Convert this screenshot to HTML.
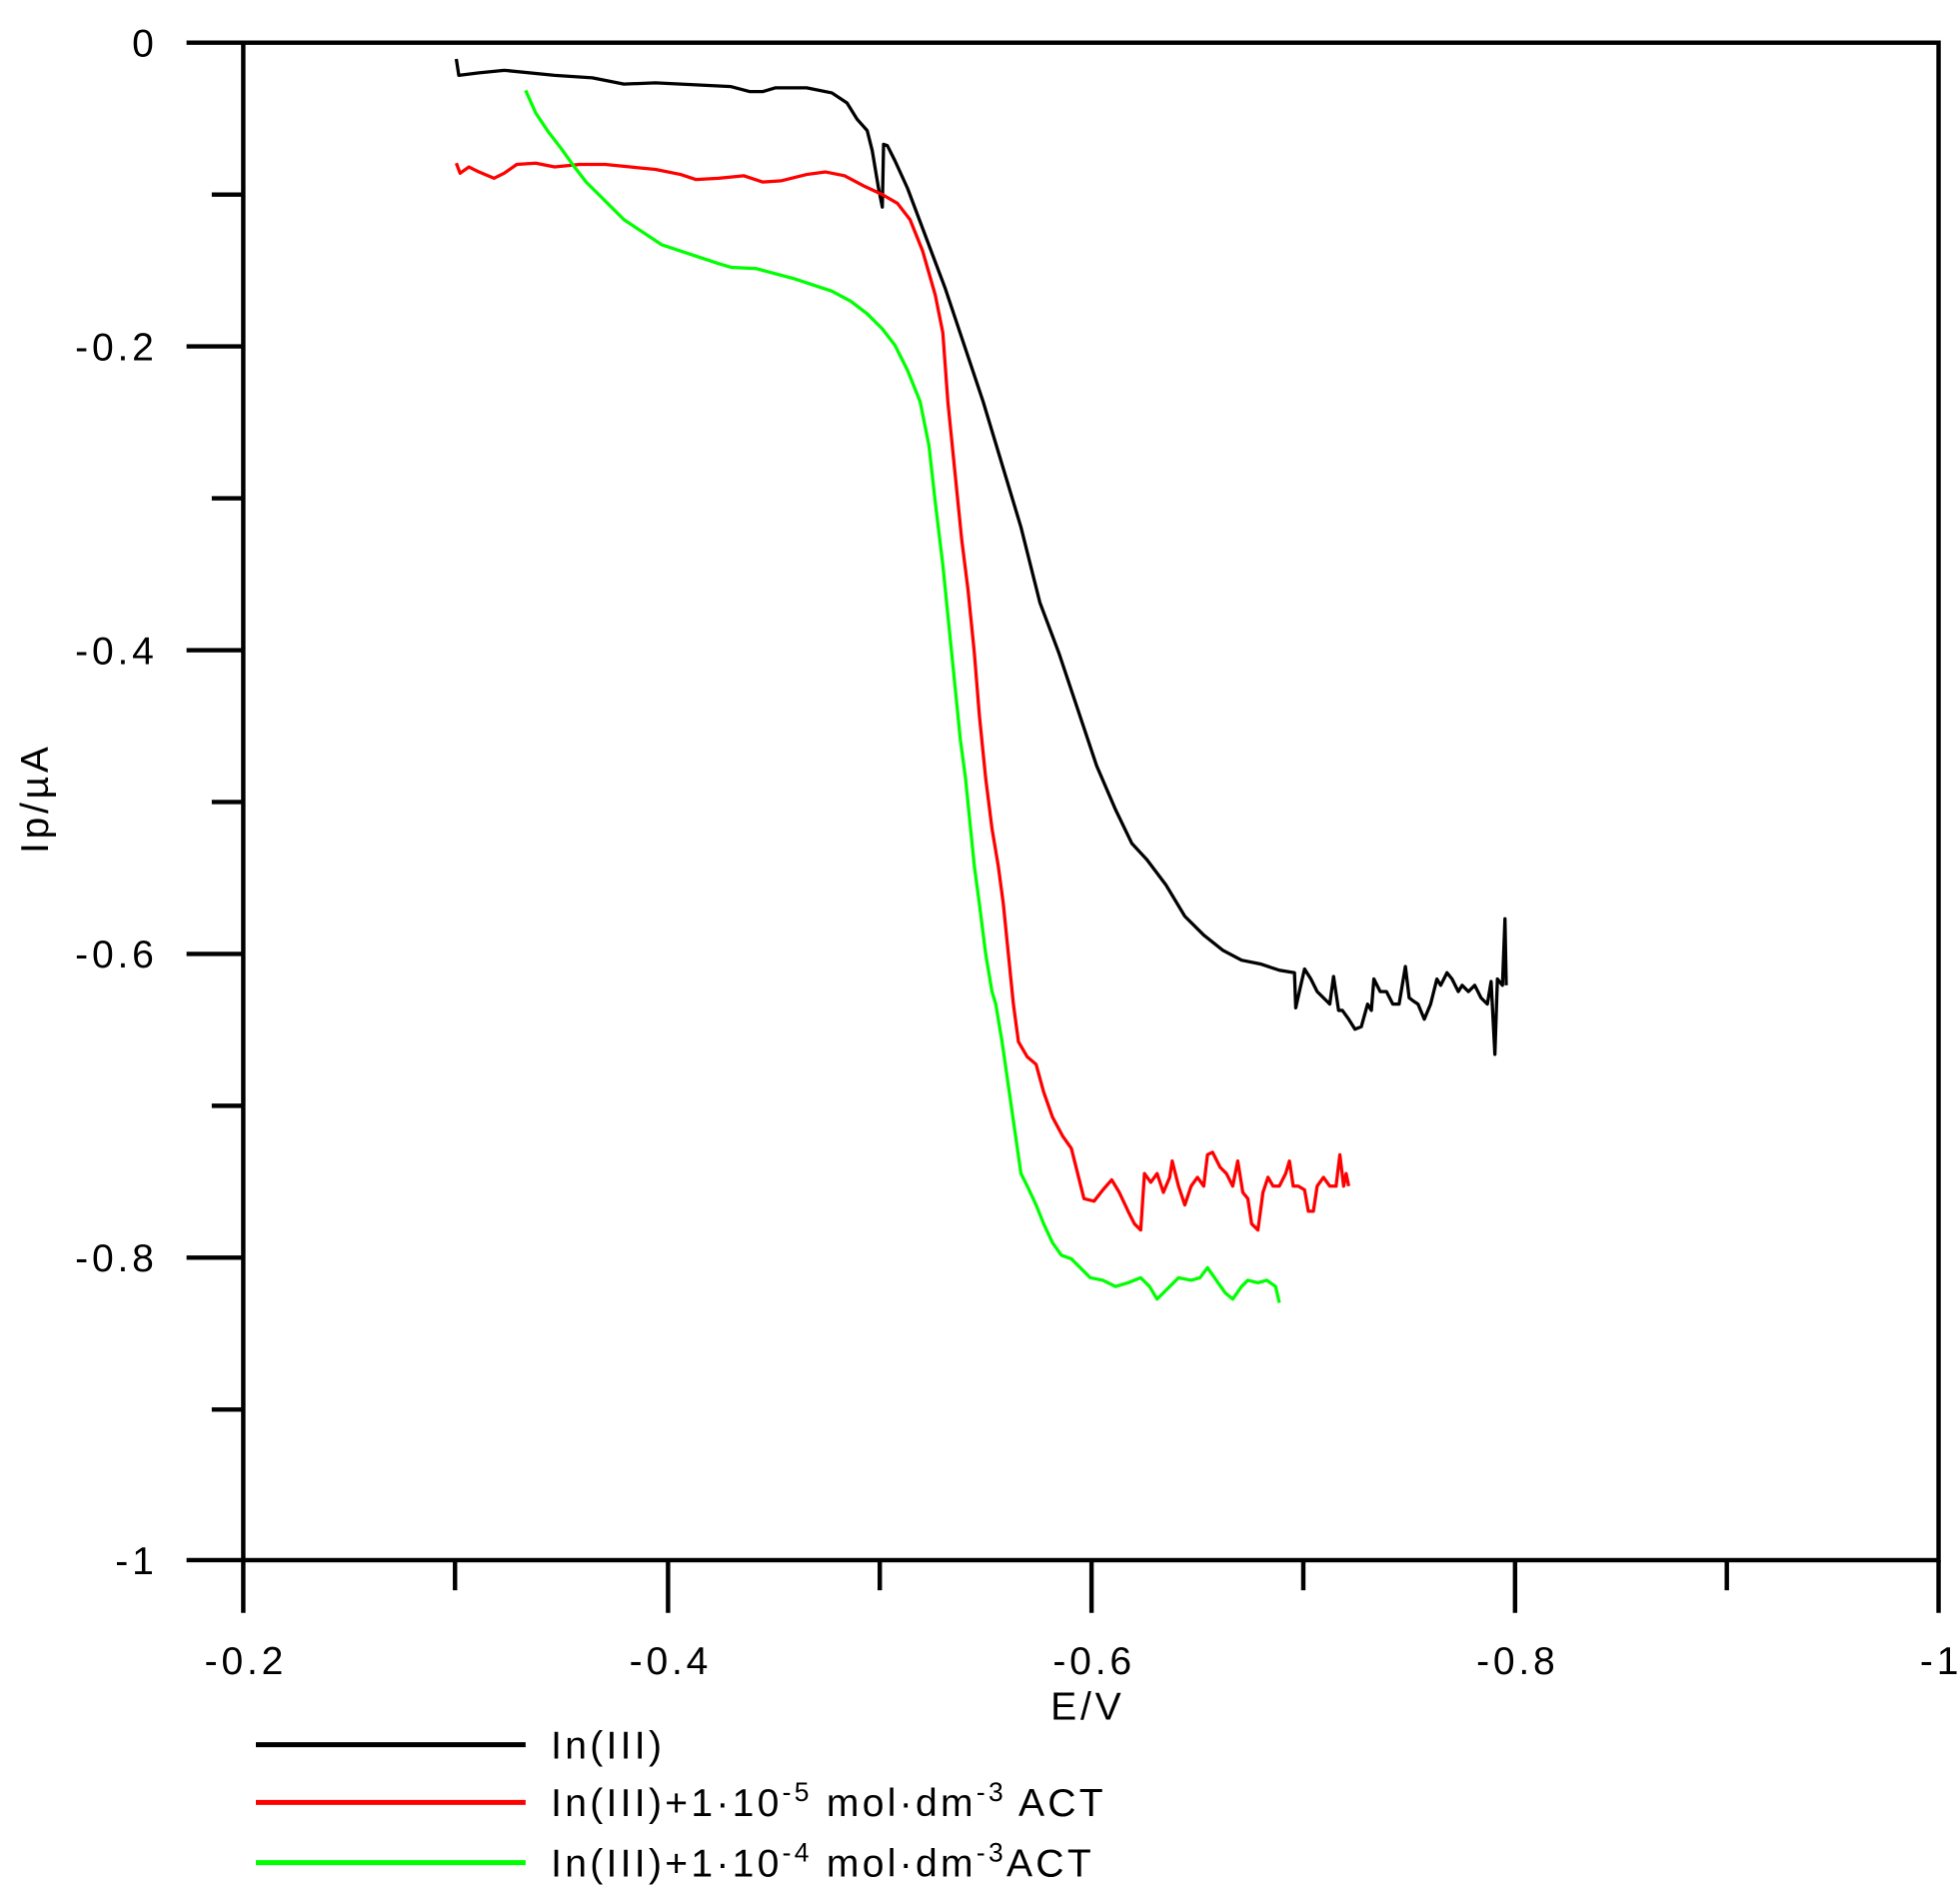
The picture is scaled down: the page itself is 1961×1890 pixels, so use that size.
<!DOCTYPE html>
<html><head><style>html,body{margin:0;padding:0;background:#fff;}svg{display:block;}</style></head>
<body>
<svg width="1961" height="1890" viewBox="0 0 1555 1505" preserveAspectRatio="none" xmlns="http://www.w3.org/2000/svg" font-family="Liberation Sans, sans-serif" font-size="31">
<rect width="1555" height="1505" fill="#fff"/>
<g stroke="#000" stroke-width="3.5" fill="none">
<rect x="193" y="34" width="1345" height="1209"/>
<path d="M148 34H193M168 155H193M148 276H193M168 397H193M148 518H193M168 639H193M148 760H193M168 881H193M148 1002H193M168 1123H193M148 1243H193"/>
<path d="M193 1243V1285M361 1243V1267M530 1243V1285M698 1243V1267M866 1243V1285M1034 1243V1267M1202 1243V1285M1370 1243V1267M1538 1243V1285"/>
</g>
<g text-anchor="end" letter-spacing="3">
<text x="125" y="45">0</text><text x="125" y="287">-0.2</text><text x="125" y="529">-0.4</text><text x="125" y="771">-0.6</text><text x="125" y="1013">-0.8</text><text x="125" y="1254">-1</text>
</g>
<g text-anchor="middle" letter-spacing="3">
<text x="195" y="1334">-0.2</text><text x="532" y="1334">-0.4</text><text x="868" y="1334">-0.6</text><text x="1204" y="1334">-0.8</text><text x="1540" y="1334">-1</text>
<text x="863" y="1370">E/V</text>
<text transform="translate(38,636) rotate(-90)">Ip/µA</text>
</g>
<g fill="none" stroke-width="2.6" stroke-linejoin="round">
<polyline stroke="#000" points="362,47 364,60 380,58 400,56 440,60 470,62 495,67 520,66 560,68 580,69 595,73 605,73 615,70 640,70 660,74 672,82 680,95 688,104 692,120 697,150 700,165 701,115 704,116 710,128 720,150 735,190 750,230 765,275 780,320 795,370 810,420 825,480 840,520 855,565 870,610 885,645 898,672 910,685 925,705 940,730 955,745 970,757 985,765 1000,768 1015,773 1027,775 1028,803 1032,785 1035,772 1040,780 1045,790 1050,795 1055,800 1058,778 1062,805 1065,805 1070,812 1075,820 1080,818 1085,800 1088,805 1090,780 1095,790 1100,790 1105,800 1110,800 1115,770 1118,795 1122,798 1125,800 1130,812 1135,800 1140,780 1143,785 1148,775 1152,780 1157,790 1160,785 1165,790 1170,785 1175,795 1180,800 1183,782 1186,840 1188,780 1192,785 1194,732 1195,785"/>
<polyline stroke="#f00" points="362,130 365,138 372,133 380,137 392,142 400,138 410,131 425,130 440,133 460,131 480,131 500,133 520,135 540,139 552,143 570,142 590,140 605,145 620,144 640,139 655,137 670,140 685,148 700,155 712,162 722,175 732,200 742,235 748,265 752,320 758,380 763,430 768,470 773,520 777,570 782,620 787,660 792,690 796,720 800,760 804,800 808,830 815,842 822,848 828,870 835,890 843,905 850,915 855,935 860,955 868,957 875,948 882,940 888,950 895,965 900,975 905,980 908,935 913,942 918,935 923,950 928,938 930,925 935,945 940,960 945,945 950,938 955,945 958,920 962,918 968,930 973,935 978,945 982,925 986,950 990,955 993,975 998,980 1002,950 1006,938 1010,945 1015,945 1020,935 1023,925 1026,945 1030,945 1035,948 1038,965 1042,965 1045,945 1050,938 1055,945 1060,945 1063,920 1066,945 1068,935 1070,945"/>
<polyline stroke="#0f0" points="417,72 425,90 435,105 445,118 455,132 465,145 475,155 485,165 495,175 510,185 525,195 540,200 555,205 570,210 580,213 600,214 615,218 630,222 645,227 660,232 675,240 688,250 700,262 710,275 720,295 730,320 737,355 742,400 748,450 753,500 757,540 762,590 766,620 770,660 773,690 777,720 782,760 787,790 790,800 795,830 800,865 805,900 810,935 815,945 822,960 828,975 835,990 842,1000 850,1003 857,1010 865,1018 875,1020 885,1025 895,1022 905,1018 912,1025 918,1035 925,1028 935,1018 945,1020 952,1018 958,1010 965,1020 972,1030 978,1035 985,1025 990,1020 998,1022 1005,1020 1012,1025 1015,1038"/>
</g>
<g stroke-width="4">
<line x1="203" y1="1390" x2="417" y2="1390" stroke="#000"/>
<line x1="203" y1="1436" x2="417" y2="1436" stroke="#f00"/>
<line x1="203" y1="1484" x2="417" y2="1484" stroke="#0f0"/>
</g>
<g letter-spacing="2.6">
<text x="437" y="1401">In(III)</text>
<text x="437" y="1447">In(III)+1·10<tspan font-size="21" dy="-12">-5</tspan><tspan dy="12"> mol·dm</tspan><tspan font-size="21" dy="-12">-3</tspan><tspan dy="12"> ACT</tspan></text>
<text x="437" y="1495">In(III)+1·10<tspan font-size="21" dy="-12">-4</tspan><tspan dy="12"> mol·dm</tspan><tspan font-size="21" dy="-12">-3</tspan><tspan dy="12">ACT</tspan></text>
</g>
</svg>
</body></html>
